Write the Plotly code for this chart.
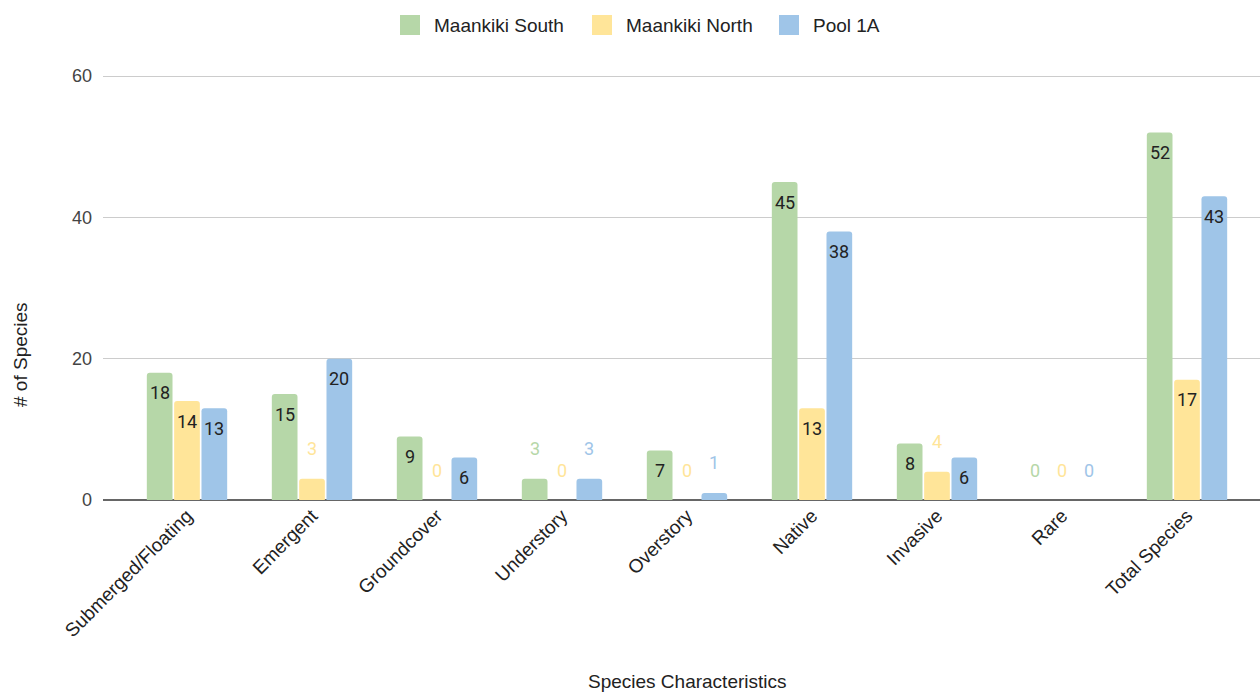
import plotly.graph_objects as go

categories = ["Submerged/Floating", "Emergent", "Groundcover", "Understory",
              "Overstory", "Native", "Invasive", "Rare", "Total Species"]
maankiki_south = [18, 15, 9, 3, 7, 45, 8, 0, 52]
maankiki_north = [14, 3, 0, 0, 0, 13, 4, 0, 17]
pool_1a = [13, 20, 6, 3, 1, 38, 6, 0, 43]
y_ticks = [0, 20, 40, 60]

series = [
    ("Maankiki South", maankiki_south, "#b6d7a8"),
    ("Maankiki North", maankiki_north, "#ffe599"),
    ("Pool 1A", pool_1a, "#9fc5e8"),
]

W, H = 1260, 694
ML, MR, MT, MB = 103, 0, 70, 194
PW, PH = W - ML - MR, H - MT - MB
Y_TOP = 60 * PH / (PH - 6)  # leaves a few pixels above the 60 gridline

AXIS_FONT = "Liberation Sans, Arial, sans-serif"
LABEL_FONT = "Roboto, sans-serif"
BARGAP = 0.344
INSIDE_MIN = 5  # values at or above this get their label inside the bar


def px_x(px):
    """Pixel column -> paper x (plot-area relative)."""
    return (px - ML) / PW


def px_y(py):
    """Pixel row -> paper y (plot-area relative)."""
    return (H - MB - py) / PH


fig = go.Figure()
for name, vals, color in series:
    fig.add_trace(go.Bar(
        name=name, x=categories, y=vals,
        marker=dict(color=color, line=dict(width=0)),
        hoverinfo="x+y+name", showlegend=False,
    ))

# value labels: dark text inside tall bars, coloured text above short ones
slot = (1 - BARGAP) / len(series)
annotations = []
for s_idx, (name, vals, color) in enumerate(series):
    offset = (s_idx - (len(series) - 1) / 2) * slot
    for c_idx, v in enumerate(vals):
        inside = v >= INSIDE_MIN
        annotations.append(dict(
            x=c_idx + offset, y=v, xref="x", yref="y",
            text=str(v), showarrow=False,
            yshift=-20 if inside else 30,
            font=dict(family=LABEL_FONT, size=18,
                      color="#222222" if inside else color),
        ))

# legend row across the top: rounded swatch followed by series name
shapes = []
legend_swatch_x = [400, 592, 779]
for (name, vals, color), sx in zip(series, legend_swatch_x):
    shapes.append(dict(
        type="rect", xref="paper", yref="paper",
        x0=px_x(sx), x1=px_x(sx + 20), y0=px_y(35), y1=px_y(15),
        fillcolor=color, line=dict(width=0), layer="above",
    ))
    annotations.append(dict(
        text=name, showarrow=False, xref="paper", yref="paper",
        x=px_x(sx + 32), y=px_y(25), xanchor="left", yanchor="middle",
        font=dict(family=AXIS_FONT, size=19, color="#222222"),
    ))

annotations.append(dict(
    text="Species Characteristics", showarrow=False,
    xref="paper", yref="paper", x=px_x(687), y=px_y(681),
    xanchor="center", yanchor="middle",
    font=dict(family=AXIS_FONT, size=19, color="#222222"),
))
annotations.append(dict(
    text="# of Species", showarrow=False, textangle=-90,
    xref="paper", yref="paper", x=px_x(20), y=px_y(355),
    xanchor="center", yanchor="middle",
    font=dict(family=AXIS_FONT, size=19, color="#222222"),
))

fig.update_layout(
    width=W, height=H,
    margin=dict(l=ML, r=MR, t=MT, b=MB),
    paper_bgcolor="white", plot_bgcolor="white",
    barmode="group", bargap=BARGAP, bargroupgap=0.06,
    barcornerradius=3,
    showlegend=False,
    annotations=annotations,
    shapes=shapes,
    xaxis=dict(
        type="category", range=[-0.672, 8.584],
        tickangle=-45, showgrid=False, ticks="",
        tickfont=dict(family=AXIS_FONT, size=19, color="#222222"),
        showline=False, zeroline=False, fixedrange=True,
    ),
    yaxis=dict(
        range=[0, Y_TOP], tickvals=y_ticks, ticks="",
        showgrid=True, gridcolor="#cccccc", gridwidth=1,
        zeroline=True, zerolinecolor="#666666", zerolinewidth=2,
        tickfont=dict(family=AXIS_FONT, size=18, color="#444444"),
        ticklabelstandoff=10, fixedrange=True,
    ),
)

fig.write_html("out.html")
